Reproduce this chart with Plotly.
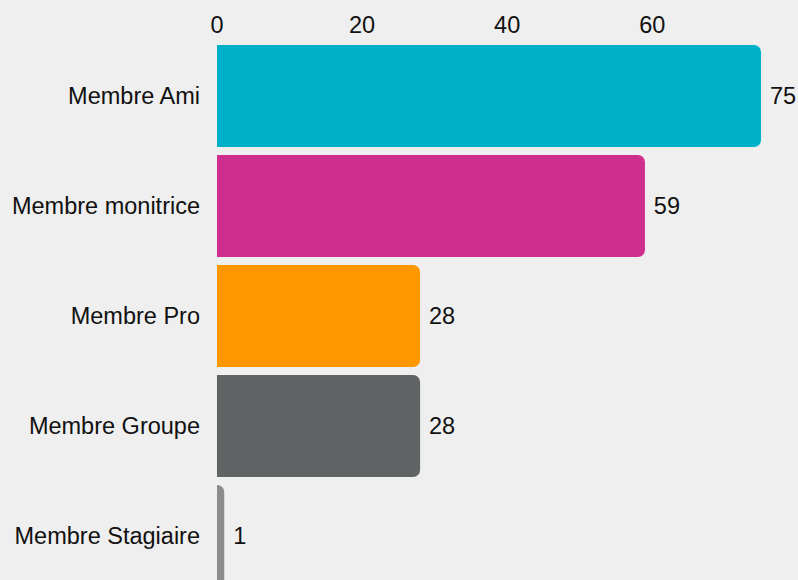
import plotly.graph_objects as go

categories = ['Membre Ami', 'Membre monitrice', 'Membre Pro', 'Membre Groupe', 'Membre Stagiaire']
counts = [75, 59, 28, 28, 1]
colors = ['#00b0c8', '#d02e8e', '#ff9800', '#606464', '#8c8c8c']

fig = go.Figure(go.Bar(
    x=counts, y=categories, orientation='h',
    marker=dict(color=colors, line=dict(width=0)),
    text=counts, texttemplate='\u2005%{x}', textposition='outside',
    textfont=dict(color='#111111', size=23.5),
    constraintext='none', cliponaxis=False,
))

fig.update_layout(
    width=798, height=580,
    margin=dict(l=217, r=0, t=41, b=0),
    paper_bgcolor='#efefef', plot_bgcolor='#efefef',
    font=dict(family='Liberation Sans, Arial, sans-serif', size=23.5, color='#111111'),
    bargap=0.073, barcornerradius=7,
    showlegend=False,
)
fig.update_xaxes(side='top', range=[0, 80.1], tickvals=[0, 20, 40, 60],
                 showgrid=False, zeroline=False, showline=False, ticks='',
                 ticklabelstandoff=2)
fig.update_yaxes(range=[4.4, -0.5], showgrid=False, zeroline=False, showline=False,
                 ticks='', ticklabelstandoff=16)

# no page margin around the chart
fig.write_html("out.html", config={'displayModeBar': False},
               post_script="document.body.style.margin='0';")
